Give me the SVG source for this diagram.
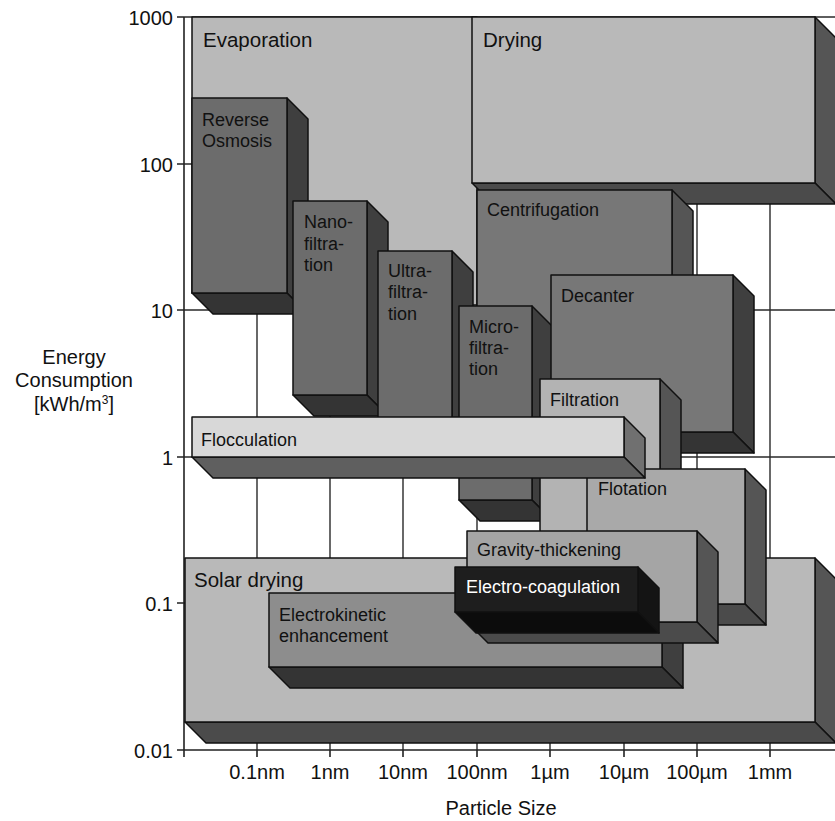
<svg xmlns="http://www.w3.org/2000/svg" width="835" height="821" viewBox="0 0 835 821">
<style>
text{font-family:"Liberation Sans",Arial,sans-serif;fill:#111}
.lbl{font-size:18px}
.big{font-size:20.5px}
.ax{font-size:20px}
.grid{stroke:#2a2a2a;stroke-width:1.4;fill:none}
.axis{stroke:#222;stroke-width:1.6;fill:none}
.box polygon,.box rect{stroke:#111;stroke-width:1.5;stroke-linejoin:round}
.f-lt{fill:#b9b9b9}.f-md{fill:#6c6c6c}.f-mc{fill:#777}.f-ek{fill:#8d8d8d}
.f-fi{fill:#b3b3b3}.f-fo{fill:#a9a9a9}.f-gr{fill:#a5a5a5}.f-fl{fill:#d8d8d8}.f-ec{fill:#1e1e1e}
.s-lt{fill:#555}.b-lt{fill:#4b4b4b}
.s-md{fill:#3f3f3f}.b-md{fill:#343434}
.s-fl{fill:#707070}.b-fl{fill:#5f5f5f}
.s-ec{fill:#141414}.b-ec{fill:#0c0c0c}
.white{fill:#fff}
</style>
<rect x="0" y="0" width="835" height="821" fill="#fff"/>
<g id="grid">
<path class="grid" d="M257 17V750M330 17V750M403 17V750M477 17V750M550 17V750M624 17V750M697 17V750M770 17V750"/>
<path class="grid" d="M184 164H835M184 310H835M184 457H835M184 603H835M184 17H835"/>
</g>
<g id="axes">
<path class="axis" d="M184 17V757M177 750H835"/>
<path class="axis" d="M177 17H184M177 164H184M177 310H184M177 457H184M177 603H184"/>
<path class="axis" d="M257 750V757M330 750V757M403 750V757M477 750V757M550 750V757M624 750V757M697 750V757M770 750V757"/>
<g class="ax" text-anchor="end">
<text x="173" y="25">1000</text>
<text x="173" y="172">100</text>
<text x="173" y="318">10</text>
<text x="173" y="465">1</text>
<text x="173" y="611">0.1</text>
<text x="173" y="758">0.01</text>
</g>
<g class="ax" text-anchor="middle">
<text x="257" y="779">0.1nm</text>
<text x="330" y="779">1nm</text>
<text x="403" y="779">10nm</text>
<text x="477" y="779">100nm</text>
<text x="550" y="779">1µm</text>
<text x="624" y="779">10µm</text>
<text x="697" y="779">100µm</text>
<text x="770" y="779">1mm</text>
<text x="501" y="815">Particle Size</text>
<text x="74" y="364">Energy</text>
<text x="74" y="387">Consumption</text>
<text x="74" y="411">[kWh/m<tspan font-size="12" dy="-7">3</tspan><tspan dy="7">]</tspan></text>
</g>
</g>
<g id="evaporation" class="box">
<polygon class="f-lt" points="192,17 477,17 477,305 213,305 213,293 192,293"/>
<text class="big" x="203" y="47">Evaporation</text>
</g>
<g id="drying" class="box">
<polygon class="s-lt" points="815,17 836,38 836,204 815,183"/>
<polygon class="b-lt" points="472,183 815,183 836,204 493,204"/>
<rect class="f-lt" x="472" y="17" width="343" height="166"/>
<text class="big" x="483" y="47">Drying</text>
</g>
<g id="centrifugation" class="box">
<polygon class="s-lt" points="672,190 693,211 693,431 672,410"/>
<polygon class="b-lt" points="477,410 672,410 693,431 498,431"/>
<rect class="f-mc" x="477" y="190" width="195" height="220"/>
<text class="lbl" x="487" y="216">Centrifugation</text>
</g>
<g id="reverse-osmosis" class="box">
<polygon class="s-md" points="287,98 308,119 308,314 287,293"/>
<polygon class="b-md" points="192,293 287,293 308,314 213,314"/>
<rect class="f-md" x="192" y="98" width="95" height="195"/>
<text class="lbl" x="202" y="126">Reverse</text>
<text class="lbl" x="202" y="147">Osmosis</text>
</g>
<g id="nanofiltration" class="box">
<polygon class="s-md" points="367,201 388,222 388,416 367,395"/>
<polygon class="b-md" points="293,395 367,395 388,416 314,416"/>
<rect class="f-md" x="293" y="201" width="74" height="194"/>
<text class="lbl" x="304" y="228">Nano-</text>
<text class="lbl" x="304" y="250">filtra-</text>
<text class="lbl" x="304" y="271">tion</text>
</g>
<g id="ultrafiltration" class="box">
<polygon class="s-md" points="452,251 473,272 473,462 452,441"/>
<polygon class="b-md" points="378,441 452,441 473,462 399,462"/>
<rect class="f-md" x="378" y="251" width="74" height="190"/>
<text class="lbl" x="388" y="277">Ultra-</text>
<text class="lbl" x="388" y="298">filtra-</text>
<text class="lbl" x="388" y="320">tion</text>
</g>
<g id="microfiltration" class="box">
<polygon class="s-md" points="532,306 553,327 553,521 532,500"/>
<polygon class="b-md" points="459,500 532,500 553,521 480,521"/>
<rect class="f-md" x="459" y="306" width="73" height="194"/>
<text class="lbl" x="469" y="333">Micro-</text>
<text class="lbl" x="469" y="354">filtra-</text>
<text class="lbl" x="469" y="375">tion</text>
</g>
<g id="decanter" class="box">
<polygon class="s-md" points="733,275 754,296 754,453 733,432"/>
<polygon class="b-md" points="551,432 733,432 754,453 572,453"/>
<rect class="f-mc" x="551" y="275" width="182" height="157"/>
<text class="lbl" x="561" y="302">Decanter</text>
</g>
<g id="filtration" class="box">
<polygon class="s-lt" points="660,379 681,400 681,570 660,549"/>
<polygon class="b-lt" points="540,549 660,549 681,570 561,570"/>
<rect class="f-fi" x="540" y="379" width="120" height="170"/>
<text class="lbl" x="550" y="406">Filtration</text>
</g>
<g id="solar-drying" class="box">
<polygon class="s-lt" points="815,558 836,579 836,743 815,722"/>
<polygon class="b-lt" points="185,722 815,722 836,743 206,743"/>
<rect class="f-lt" x="185" y="558" width="630" height="164"/>
<text class="big" x="194" y="587">Solar drying</text>
</g>
<g id="flotation" class="box">
<polygon class="s-lt" points="745,469 766,490 766,625 745,604"/>
<polygon class="b-lt" points="587,604 745,604 766,625 608,625"/>
<rect class="f-fo" x="587" y="469" width="158" height="135"/>
<text class="lbl" x="598" y="495">Flotation</text>
</g>
<g id="flocculation" class="box">
<polygon class="s-fl" points="624,417 645,438 645,478 624,457"/>
<polygon class="b-fl" points="192,457 624,457 645,478 213,478"/>
<rect class="f-fl" x="192" y="417" width="432" height="40"/>
<text class="lbl" x="201" y="446">Flocculation</text>
</g>
<g id="electrokinetic-enhancement" class="box">
<polygon class="s-md" points="662,593 683,614 683,688 662,667"/>
<polygon class="b-md" points="269,667 662,667 683,688 290,688"/>
<rect class="f-ek" x="269" y="593" width="393" height="74"/>
<text class="lbl" x="279" y="621">Electrokinetic</text>
<text class="lbl" x="279" y="642">enhancement</text>
</g>
<g id="gravity-thickening" class="box">
<polygon class="s-lt" points="697,531 718,552 718,643 697,622"/>
<polygon class="b-lt" points="467,622 697,622 718,643 488,643"/>
<rect class="f-gr" x="467" y="531" width="230" height="91"/>
<text class="lbl" x="477" y="556">Gravity-thickening</text>
</g>
<g id="electro-coagulation" class="box">
<polygon class="s-ec" points="638,567 659,588 659,633 638,612"/>
<polygon class="b-ec" points="455,612 638,612 659,633 476,633"/>
<rect class="f-ec" x="455" y="567" width="183" height="45"/>
<text class="lbl white" x="466" y="593">Electro-coagulation</text>
</g>
</svg>
